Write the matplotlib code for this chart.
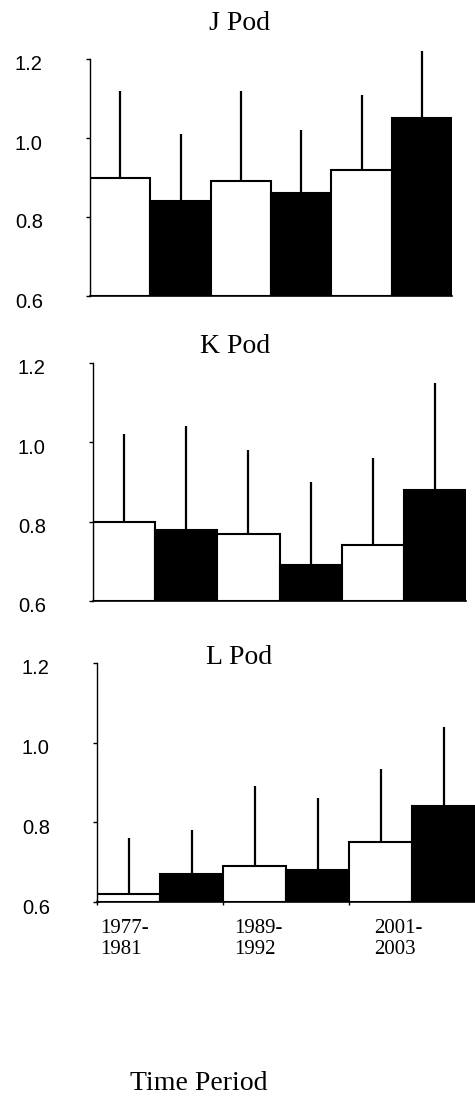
import matplotlib
matplotlib.use("Agg")
import matplotlib.pyplot as plt
import matplotlib.transforms as mtransforms

# ---- data ----
pods = ["J Pod", "K Pod", "L Pod"]
periods = ["1977-\n1981", "1989-\n1992", "2001-\n2003"]
bar_colors = ["white", "black", "white", "black", "white", "black"]

j_means = [0.90, 0.84, 0.89, 0.86, 0.92, 1.05]
j_err = [0.22, 0.17, 0.23, 0.16, 0.19, 0.17]
k_means = [0.80, 0.78, 0.77, 0.69, 0.74, 0.88]
k_err = [0.22, 0.26, 0.21, 0.21, 0.22, 0.27]
l_means = [0.62, 0.67, 0.69, 0.68, 0.75, 0.84]
l_err = [0.14, 0.11, 0.20, 0.18, 0.185, 0.20]

y_ticks = [0.6, 0.8, 1.0, 1.2]
y_ticklabels = ["0.6", "0.8", "1.0", "1.2"]

W, H = 475, 1098
fig = plt.figure(figsize=(W / 100, H / 100), dpi=100)

def px_axes(left, right, top, bottom):
    return fig.add_axes([left / W, (H - bottom) / H, (right - left) / W, (bottom - top) / H])

# axes geometry (pixels): left, right, top(1.2), bottom(0.6)
boxes = [(90, 452, 59, 296), (93, 466, 363, 601), (97, 475, 663, 902)]
titles_px = [(239, 24), (235, 347), (239, 657)]
data = [(j_means, j_err), (k_means, k_err), (l_means, l_err)]

serif = ["Liberation Serif", "DejaVu Serif"]
sans = ["Liberation Sans", "DejaVu Sans"]

shift_down = mtransforms.ScaledTranslation(0, -0.04, fig.dpi_scale_trans)

for i, (box, (means, errs)) in enumerate(zip(boxes, data)):
    ax = px_axes(*box)
    x = list(range(len(means)))
    heights = [m - 0.6 for m in means]
    ax.bar(x, heights, bottom=0.6, width=1.0, color=bar_colors,
           edgecolor="black", linewidth=1.5, zorder=2)
    ax.errorbar(x, means, yerr=[[0] * len(errs), errs], fmt="none",
                ecolor="black", elinewidth=1.6, capsize=0, zorder=3, clip_on=False)
    ax.set_xlim(-0.5, 5.5)
    ax.set_ylim(0.6, 1.2)
    ax.set_yticks(y_ticks)
    ax.set_yticklabels(y_ticklabels, family=sans, fontsize=14.5)
    ax.tick_params(axis="y", direction="out", length=3, width=1, pad=31)
    for lab in ax.get_yticklabels():
        lab.set_transform(lab.get_transform() + shift_down)
    for s in ["top", "right"]:
        ax.spines[s].set_visible(False)
    ax.spines["left"].set_linewidth(1.0)
    ax.spines["bottom"].set_linewidth(1.2)
    if i < 2:
        ax.set_xticks([])
    else:
        ax.set_xticks([-0.5, 1.5, 3.5])
        ax.set_xticklabels([])
        ax.tick_params(axis="x", direction="inout", length=5, width=1)
        label_x = [-0.45, 1.67, 3.9]
        for lx, lab in zip(label_x, periods):
            ax.text(lx, -0.072, lab, transform=ax.get_xaxis_transform(),
                    ha="left", va="top", family=serif, fontsize=15, linespacing=1.15)
    tx, ty = titles_px[i]
    fig.text(tx / W, 1 - ty / H, pods[i], ha="center", va="center",
             family=serif, fontsize=20)

fig.text(199 / W, 1 - 1083 / H, "Time Period", ha="center", va="center",
         family=serif, fontsize=20)

fig.savefig("out.png", dpi=100)
